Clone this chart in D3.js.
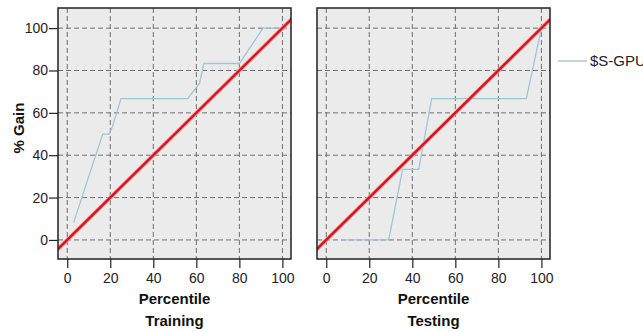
<!DOCTYPE html>
<html>
<head>
<meta charset="utf-8">
<script src="https://cdn.jsdelivr.net/npm/d3@7"></script>
<style>
	body { margin: 0; background: #fff; }
	svg { display: block; font-family: "Liberation Sans", Arial, sans-serif; }
	.tick text { font-size: 14px; fill: #222; }
	.tick line { stroke: #222; }
	.title { font-size: 15px; font-weight: bold; fill: #111; }
</style>
</head>
<body>
<div id="chart"></div>
<script>
//data: percentile vs % gain for each partition
const trainPct  = [3, 10, 16.5, 19.5, 21, 25, 56, 61.5, 63.5, 80, 91, 100];
const trainGain = [8.3, 30, 50, 50, 53.5, 66.7, 66.7, 74, 83.3, 83.3, 100, 100];
const testPct   = [7, 29, 35.5, 43, 49, 93, 100];
const testGain  = [0, 0, 33.3, 33.3, 66.7, 66.7, 100];
const baseline  = [-10, 110]; //the red diagonal, y = x
const tickVals  = [0, 20, 40, 60, 80, 100];
const panelNames = ["Training", "Testing"];
const seriesName = "$S-GPU";

//layout
const W = 643, H = 332;
const panelTop = 8, panelBottom = 259, panelWidth = 233;
const panelLefts = [58, 317];

const svg = d3.select("#chart").append("svg")
	.attr("width", W).attr("height", H);

const y = d3.scaleLinear().domain([-9, 109.5]).range([panelBottom, panelTop]);

function drawPanel(idx, pct, gain) {
	const left = panelLefts[idx];
	const x = d3.scaleLinear().domain([-4.3, 104]).range([left, left + panelWidth]);
	const g = svg.append("g");

	//background
	g.append("rect")
		.attr("x", left).attr("y", panelTop)
		.attr("width", panelWidth).attr("height", panelBottom - panelTop)
		.attr("fill", "#ebebeb");

	//dashed grid
	tickVals.forEach(function(v) {
		g.append("line")
			.attr("x1", x(v)).attr("x2", x(v))
			.attr("y1", panelTop).attr("y2", panelBottom)
			.attr("stroke", "#6f6f6f").attr("stroke-dasharray", "5,3");
		g.append("line")
			.attr("x1", left).attr("x2", left + panelWidth)
			.attr("y1", y(v)).attr("y2", y(v))
			.attr("stroke", "#6f6f6f").attr("stroke-dasharray", "5,3");
	});

	const clipId = "clip" + idx;
	svg.append("clipPath").attr("id", clipId)
		.append("rect")
		.attr("x", left).attr("y", panelTop)
		.attr("width", panelWidth).attr("height", panelBottom - panelTop);

	const line = d3.line()
		.x(function(d) { return x(d[0]); })
		.y(function(d) { return y(d[1]); });

	//gain curve
	g.append("path")
		.datum(d3.zip(pct, gain))
		.attr("clip-path", "url(#" + clipId + ")")
		.attr("d", line)
		.attr("fill", "none")
		.attr("stroke", "#9fc6d6")
		.attr("stroke-width", 1.3);

	//red diagonal (with a soft pink edge like the original)
	g.append("path")
		.datum(d3.zip(baseline, baseline))
		.attr("clip-path", "url(#" + clipId + ")")
		.attr("d", line)
		.attr("fill", "none")
		.attr("stroke", "#f2a0a0")
		.attr("stroke-width", 4);
	g.append("path")
		.datum(d3.zip(baseline, baseline))
		.attr("clip-path", "url(#" + clipId + ")")
		.attr("d", line)
		.attr("fill", "none")
		.attr("stroke", "#d8141c")
		.attr("stroke-width", 2.4);

	//frame
	g.append("rect")
		.attr("x", left).attr("y", panelTop)
		.attr("width", panelWidth).attr("height", panelBottom - panelTop)
		.attr("fill", "none")
		.attr("stroke", "#222").attr("stroke-width", 1.5);

	//x axis
	const xAxis = g.append("g")
		.attr("transform", "translate(0," + panelBottom + ")")
		.call(d3.axisBottom(x).tickValues(tickVals).tickSize(9).tickPadding(5));
	xAxis.select(".domain").remove();
	xAxis.selectAll(".tick line").attr("stroke-width", 1.2);
	xAxis.selectAll("text").attr("font-family", null).attr("font-size", null);

	//axis titles
	g.append("text").attr("class", "title")
		.attr("x", left + panelWidth / 2).attr("y", 304)
		.attr("text-anchor", "middle").text("Percentile");
	g.append("text").attr("class", "title")
		.attr("x", left + panelWidth / 2).attr("y", 326)
		.attr("text-anchor", "middle").text(panelNames[idx]);

	return x;
}

drawPanel(0, trainPct, trainGain);
drawPanel(1, testPct, testGain);

//y axis only on the left panel
const yAxis = svg.append("g")
	.attr("transform", "translate(" + panelLefts[0] + ",0)")
	.call(d3.axisLeft(y).tickValues(tickVals).tickSize(9).tickPadding(1));
yAxis.select(".domain").remove();
yAxis.selectAll(".tick line").attr("stroke-width", 1.2);
yAxis.selectAll("text").attr("font-family", null).attr("font-size", null);

svg.append("text").attr("class", "title")
	.attr("transform", "translate(24,128) rotate(-90)")
	.attr("text-anchor", "middle")
	.text("% Gain");

//legend
svg.append("line")
	.attr("x1", 558).attr("x2", 587)
	.attr("y1", 61).attr("y2", 61)
	.attr("stroke", "#9fb8c4").attr("stroke-width", 1.2);
svg.append("text")
	.attr("x", 590).attr("y", 66)
	.attr("font-size", 15).attr("fill", "#222")
	.text(seriesName);
</script>
</body>
</html>
